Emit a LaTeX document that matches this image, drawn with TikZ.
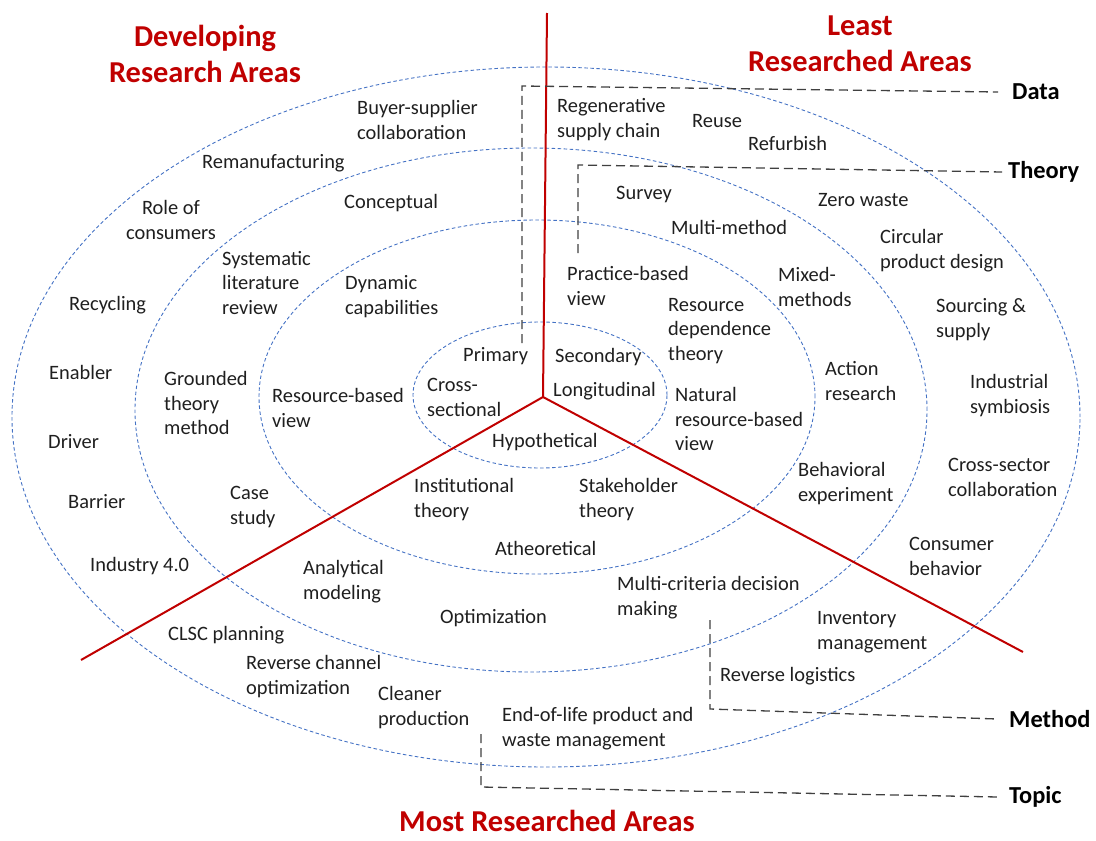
\documentclass[tikz,border=0pt]{standalone}
\usepackage{fontspec}
\setmainfont{Carlito}
\definecolor{ringblue}{RGB}{68,114,196}
\definecolor{axisred}{RGB}{192,0,0}
\definecolor{guidegray}{RGB}{64,64,64}
\begin{document}
\begin{tikzpicture}[x=1bp,y=-1bp,
  ring/.style={draw=ringblue, line width=0.9bp, dash pattern=on 3.5bp off 2.5bp},
  axis/.style={draw=axisred, line width=2bp},
  guide/.style={draw=guidegray, line width=1.3bp, dash pattern=on 9bp off 5bp},
  lbl/.style={inner sep=0pt, align=left, anchor=west, text=black!88,
              font=\fontsize{20.5}{25}\selectfont},
  clbl/.style={lbl, align=center, anchor=center},
  head/.style={inner sep=0pt, align=center, text=axisred,
               font=\bfseries\fontsize{30.5}{36}\selectfont},
  tag/.style={inner sep=0pt, anchor=west, text=black,
              font=\bfseries\fontsize{24.5}{28}\selectfont}]

\useasboundingbox (0,0) rectangle (1096,841);

% nested rings
\draw[ring] (546,417) ellipse [x radius=534bp, y radius=350bp];
\draw[ring] (531,410) ellipse [x radius=396bp, y radius=262bp];
\draw[ring] (537,397) ellipse [x radius=278bp, y radius=177bp];
\draw[ring] (540,395) ellipse [x radius=127bp, y radius=73bp];

% three sector axes
\coordinate (hub) at (543,397);
\coordinate (axTop) at (547,13);
\coordinate (axLeft) at (81,660);
\coordinate (axRight) at (1023,652);
\draw[axis] (hub) -- (axTop);
\draw[axis] (hub) -- (axLeft);
\draw[axis] (hub) -- (axRight);

% sector titles
\node[head] (tDev) at (205,54) {Developing\\Research Areas};
\node[head] (tLeast) at (860,44) {Least\\Researched Areas};
\node[head, anchor=base] (tMost) at (547,831) {Most Researched Areas};

% ring tags
\node[tag] (data) at (1012,92) {Data};
\node[tag] (theory) at (1008,172) {Theory};
\node[tag] (method) at (1009,719) {Method};
\node[tag] (topic) at (1009,797) {Topic};

% guides from the rings to their tags
\coordinate (dA) at (522,343); \coordinate (dB) at (522,86);
\coordinate (thA) at (578,253); \coordinate (thB) at (578,165);
\coordinate (mA) at (710,620); \coordinate (mB) at (710,709);
\coordinate (tpA) at (481,734); \coordinate (tpB) at (481,787);
\draw[guide] (dA) -- (dB) -- ([xshift=-14bp]data.west);
\draw[guide] (thA) -- (thB) -- ([xshift=-6bp]theory.west);
\draw[guide] (mA) -- (mB) -- ([xshift=-12bp]method.west);
\draw[guide] (tpA) -- (tpB) -- ([xshift=-11bp]topic.west);

% outer ring: topics
\node[lbl] (buyer) at (357,120) {Buyer-supplier\\collaboration};
\node[lbl] (reman) at (202,163) {Remanufacturing};
\node[clbl] (role) at (171,220) {Role of\\consumers};
\node[lbl] (recyc) at (69,305) {Recycling};
\node[lbl] (enab) at (49,372) {Enabler};
\node[lbl] (driv) at (48,442) {Driver};
\node[lbl] (barr) at (68,502) {Barrier};
\node[lbl] (ind) at (90,566) {Industry 4.0};
\node[lbl] (clsc) at (168,635) {CLSC planning};
\node[lbl] (revch) at (246,677) {Reverse channel\\optimization};
\node[lbl] (clean) at (378,708) {Cleaner\\production};
\node[lbl] (eol) at (502,729) {End-of-life product and\\waste management};
\node[lbl] (revlog) at (720,676) {Reverse logistics};
\node[lbl] (inv) at (817,632) {Inventory\\management};
\node[lbl] (cons) at (909,556) {Consumer\\behavior};
\node[lbl] (cross) at (948,477) {Cross-sector\\collaboration};
\node[lbl] (indsym) at (970,396) {Industrial\\symbiosis};
\node[lbl] (sourc) at (936,320) {Sourcing \&\\supply};
\node[lbl] (circ) at (880,251) {Circular\\product design};
\node[lbl] (zero) at (818,200) {Zero waste};
\node[lbl] (refurb) at (748,143) {Refurbish};
\node[lbl] (reuse) at (692,121) {Reuse};
\node[lbl] (regen) at (557,120) {Regenerative\\supply chain};

% third ring: methods
\node[lbl] (concept) at (344,203) {Conceptual};
\node[lbl] (slr) at (222,283) {Systematic\\literature\\review};
\node[lbl] (gtm) at (164,403) {Grounded\\theory\\method};
\node[lbl] (case) at (230,507) {Case\\study};
\node[lbl] (anal) at (303,582) {Analytical\\modeling};
\node[lbl] (optim) at (440,618) {Optimization};
\node[lbl] (mcdm) at (617,598) {Multi-criteria decision\\making};
\node[lbl] (behav) at (798,484) {Behavioral\\experiment};
\node[lbl] (action) at (825,381) {Action\\research};
\node[lbl] (mixed) at (778,287) {Mixed-\\methods};
\node[lbl] (multi) at (671,227) {Multi-method};
\node[lbl] (survey) at (616,195) {Survey};

% second ring: theories
\node[lbl] (dyn) at (345,297) {Dynamic\\capabilities};
\node[lbl] (rbv) at (272,408) {Resource-based\\view};
\node[lbl] (inst) at (414,500) {Institutional\\theory};
\node[lbl] (athe) at (495,548) {Atheoretical};
\node[lbl] (stake) at (579,500) {Stakeholder\\theory};
\node[lbl] (nrbv) at (675,419) {Natural\\resource-based\\view};
\node[lbl] (rdt) at (668,331) {Resource\\dependence\\theory};
\node[lbl] (pbv) at (567,286) {Practice-based\\view};

% inner ring: data
\node[lbl] (prim) at (463,356) {Primary};
\node[lbl] (second) at (555,357) {Secondary};
\node[lbl] (csec) at (427,397) {Cross-\\sectional};
\node[lbl] (longi) at (553,391) {Longitudinal};
\node[lbl] (hypo) at (492,442) {Hypothetical};

\end{tikzpicture}
\end{document}
